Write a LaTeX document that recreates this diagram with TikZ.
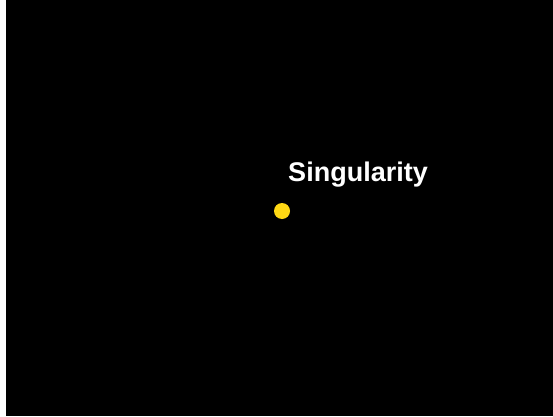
\documentclass[tikz,border=0pt]{standalone}
\usepackage{fontspec}
\setmainfont{Liberation Sans}
\definecolor{dotyellow}{HTML}{FFD814}
\begin{document}
\begin{tikzpicture}[x=1pt,y=1pt,
  label/.style={text=white,font=\fontsize{27}{31}\selectfont\bfseries,anchor=base,inner sep=0pt},
  dot/.style={circle,fill=dotyellow,minimum size=16pt,inner sep=0pt}]
\useasboundingbox (0,0) rectangle (553,416);
\fill[white] (0,0) rectangle (553,416);
\fill[black] (6,0) rectangle (553,416);
\node[dot] (sing) at (282,205) {};
\node[label] (txt) at (358,235) {Singularity};
\end{tikzpicture}
\end{document}
